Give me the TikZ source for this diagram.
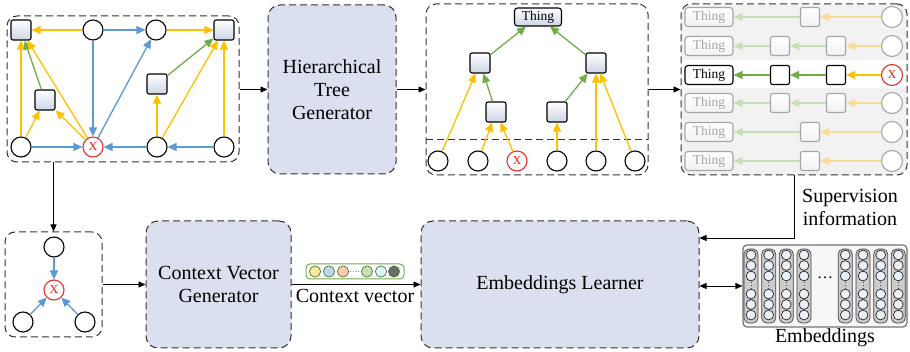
\documentclass[tikz,border=0pt]{standalone}
\usepackage{fontspec}
\setmainfont{Liberation Serif}
\usetikzlibrary{arrows.meta,calc}

\definecolor{cyel}{HTML}{FFC000}
\definecolor{cblue}{HTML}{5B9BD5}
\definecolor{cgreen}{HTML}{70AD47}
\definecolor{xred}{HTML}{E8302A}
\definecolor{boxfill}{HTML}{DAE0EF}
\definecolor{sqshade}{HTML}{CDD5E6}
\definecolor{fadeyel}{HTML}{F8DC98}
\definecolor{fadegreen}{HTML}{C8DEB8}
\definecolor{fadegray}{HTML}{A6A6A6}
\definecolor{panelgray}{HTML}{F2F2F2}
\definecolor{embcircle}{HTML}{EAF0F7}

\tikzset{
  panel/.style={draw=black!80, dash pattern=on 7pt off 4pt, line width=1pt,
    rounded corners=10pt, inner sep=0pt, fill=white},
  genbox/.style={panel, fill=boxfill, rounded corners=12pt,
    align=center, font=\fontsize{20}{23}\selectfont},
  sq/.style={draw, line width=1.1pt, minimum size=20pt, inner sep=0pt, rounded corners=2pt,
    top color=white, bottom color=sqshade},
  cir/.style={circle, draw, line width=1.1pt, minimum size=20pt, inner sep=0pt, fill=white},
  xcir/.style={cir, draw=xred, text=xred, font=\fontsize{17}{17}\selectfont},
  thing/.style={draw, line width=1.1pt, rounded corners=3pt, minimum width=47pt,
    minimum height=18pt, inner sep=0pt, font=\fontsize{13.5}{14}\selectfont,
    top color=white, bottom color=sqshade},
  fsq/.style={sq, draw=fadegray, top color=white, bottom color=panelgray, minimum size=19pt},
  fcir/.style={cir, draw=fadegray, minimum size=21pt},
  fthing/.style={thing, draw=fadegray, text=fadegray, top color=white, bottom color=panelgray,
    minimum width=48pt, minimum height=19pt},
  carrow/.style={line width=1.3pt, -{Triangle[length=9pt,width=8pt]}},
  ya/.style={carrow, draw=cyel},
  ba/.style={carrow, draw=cblue},
  ga/.style={carrow, draw=cgreen},
  fya/.style={carrow, draw=fadeyel},
  fga/.style={carrow, draw=fadegreen},
  blk/.style={line width=0.8pt, -{Triangle[length=7pt,width=6pt]}},
  lbl/.style={font=\fontsize{20}{23}\selectfont, align=center, inner sep=0pt},
}

\begin{document}
\begin{tikzpicture}[x=1pt, y=-1pt]
\useasboundingbox (0,0) rectangle (910,352);

% ---------- input graph ----------
\node[panel, minimum width=232pt, minimum height=146pt] (p1) at (123,89) {};
\node[sq]   (gTL) at (21,30)  {};
\node[cir]  (g1)  at (93,30)  {};
\node[cir]  (g2)  at (156,30) {};
\node[sq]   (gTR) at (224,30) {};
\node[sq]   (gML) at (45,100) {};
\node[sq]   (gMR) at (157,84) {};
\node[cir]  (gBL) at (21,147) {};
\node[xcir] (gX)  at (93,147) {x};
\node[cir]  (g3)  at (157,147) {};
\node[cir]  (g4)  at (224,147) {};

\draw[ya] (g1) -- (gTL);
\draw[ba] (g1) -- (g2);
\draw[ya] (g2) -- (gTR);
\draw[ba] (g1) -- (gX);
\draw[ba] (gX) -- (g2);
\draw[ya] (gBL) -- (gTL);
\draw[ya] (gBL) -- (gML);
\draw[ga] (gML) -- (gTL);
\draw[ya] (gX) -- (gML);
\draw[ya] (gX) -- (gTL);
\draw[ba] (gBL) -- (gX);
\draw[ba] (g3) -- (gX);
\draw[ba] (g4) -- (g3);
\draw[ya] (g3) -- (gMR);
\draw[ga] (gMR) -- (gTR);
\draw[ya] (g3) -- (gTR);
\draw[ya] (g4) -- (gTR);

% ---------- hierarchical tree generator ----------
\node[genbox, minimum width=128pt, minimum height=169pt] (htg) at (332,89.5)
  {Hierarchical\\Tree\\Generator};

% ---------- generated tree ----------
\node[panel, minimum width=222pt, minimum height=171pt] (p3) at (537,89.5) {};
\draw[draw=black!80, dash pattern=on 7pt off 4pt, line width=1pt] (426,140) -- (648,140);
\node[thing] (tTh) at (538,17) {Thing};
\node[sq] (tL1) at (480,63) {};
\node[sq] (tR1) at (596,63) {};
\node[sq] (tL2) at (496,112) {};
\node[sq] (tR2) at (557,112) {};
\node[cir]  (tc1) at (438,161) {};
\node[cir]  (tc2) at (478,161) {};
\node[xcir] (tcX) at (517,161) {x};
\node[cir]  (tc4) at (557,161) {};
\node[cir]  (tc5) at (596,161) {};
\node[cir]  (tc6) at (635,161) {};

\draw[ga] (tL1) -- (tTh);
\draw[ga] (tR1) -- (tTh);
\draw[ya] (tc1) -- (tL1);
\draw[ga] (tL2) -- (tL1);
\draw[ya] (tc2) -- (tL2);
\draw[ya] (tcX) -- (tL2);
\draw[ya] (tc4) -- (tR2);
\draw[ga] (tR2) -- (tR1);
\draw[ya] (tc5) -- (tR1);
\draw[ya] (tc6) -- (tR1);

% ---------- paths to the root ----------
\node[panel, fill=panelgray, minimum width=226pt, minimum height=171pt] (p4) at (794,89.5) {};
\fill[white] (682,60) rectangle (906,88);

\foreach \y/\n in {17/1,132/5,161/6} {
  \node[fthing] (rt\n) at (709,\y) {Thing};
  \node[fsq] (rs\n) at (810,\y) {};
  \node[fcir] (rc\n) at (892,\y) {};
  \draw[fya] (rc\n) -- (rs\n);
  \draw[fga] (rs\n) -- (rt\n);
}
\foreach \y/\n in {46/2,103/4} {
  \node[fthing] (rt\n) at (709,\y) {Thing};
  \node[fsq] (ra\n) at (780,\y) {};
  \node[fsq] (rb\n) at (836,\y) {};
  \node[fcir] (rc\n) at (892,\y) {};
  \draw[fya] (rc\n) -- (rb\n);
  \draw[fga] (rb\n) -- (ra\n);
  \draw[fga] (ra\n) -- (rt\n);
}
\node[thing, top color=white, bottom color=white, minimum width=48pt, minimum height=19pt]
  (rt3) at (709,75) {Thing};
\node[sq, top color=white, bottom color=white, minimum size=19pt] (ra3) at (780,75) {};
\node[sq, top color=white, bottom color=white, minimum size=19pt] (rb3) at (836,75) {};
\node[xcir, minimum size=21pt] (rc3) at (892,75) {x};
\draw[ya] (rc3) -- (rb3);
\draw[ga] (rb3) -- (ra3);
\draw[ga] (ra3) -- (rt3);

% ---------- context of the node ----------
\node[panel, minimum width=97pt, minimum height=105pt] (p2) at (53.5,284.5) {};
\node[cir]  (bT) at (54,247) {};
\node[xcir] (bX) at (54,290) {x};
\node[cir]  (bL) at (23,322) {};
\node[cir]  (bR) at (85,322) {};
\draw[ba] (bT) -- (bX);
\draw[ba] (bL) -- (bX);
\draw[ba] (bR) -- (bX);

% ---------- generators and learner ----------
\node[genbox, minimum width=145pt, minimum height=127pt] (cvg) at (218.5,284.5)
  {Context Vector\\Generator};
\node[genbox, minimum width=278pt, minimum height=127pt] (el) at (560,284.5)
  {Embeddings Learner};

% context vector icon
\node[draw=cgreen, line width=1pt, rounded corners=4pt, minimum width=98pt,
  minimum height=15pt, fill=white, inner sep=0pt] (vec) at (355,271.5) {};
\foreach \x/\c in {315/FFE699,329/BDD7EE,343/F8CBAD,367/C5E0B4,381/DDF4F4,394/6B6B6B} {
  \definecolor{vc}{HTML}{\c}
  \fill[vc, draw=cgreen!70!black, line width=0.7pt] (\x,271.5) circle (5.6);
}
\draw[cgreen, line width=0.8pt, dotted] (350,271.5) -- (360,271.5);
\node[lbl, anchor=base] (cvlab) at (355,303) {Context vector};

% embeddings icon
\node[draw=black!55, line width=1.2pt, rounded corners=4pt, minimum width=164pt,
  minimum height=82pt, fill=gray!6, inner sep=0pt] (emb) at (825,286) {};
\foreach \x in {751,768.7,786.3,804,845.3,863,880.7,898.3} {
  \draw[black!75, fill=gray!40, line width=0.7pt, rounded corners=5pt]
    (\x-7,249) rectangle (\x+7,323);
  \foreach \y in {255,265.5,276,294,304.5,315}
    \draw[black!85, fill=embcircle, line width=0.7pt] (\x,\y) circle (4.9);
  \draw[black!70, line width=0.8pt, dotted] (\x,282) -- (\x,288);
}
\node[font=\fontsize{16}{16}\selectfont, inner sep=0pt] (edots) at (825,278) {\dots};
\node[lbl, anchor=base] (emblab) at (825,343) {Embeddings};

% supervision label
\node[lbl, anchor=base] (suplab) at (850,203) {Supervision};
\node[lbl, anchor=base] (suplab2) at (850,226) {information};

% ---------- connectors ----------
\draw[blk] (p1.east |- htg.west) -- (htg.west);
\draw[blk] (htg.east) -- (htg.east -| p3.west);
\draw[blk] (p3.east) -- (p3.east -| p4.west);
\draw[blk] (p1.south -| p2.north) -- (p2.north);
\draw[blk] (p2.east) -- (p2.east -| cvg.west);
\draw[blk] (cvg.east) -- (el.west);
\coordinate (supturn) at (794,238);
\draw[blk] (p4.south -| supturn) |- (supturn -| el.east);
\draw[line width=0.8pt, {Triangle[length=7pt,width=6pt]}-{Triangle[length=7pt,width=6pt]}]
  (el.east |- emb.west) -- (emb.west);
\end{tikzpicture}
\end{document}
